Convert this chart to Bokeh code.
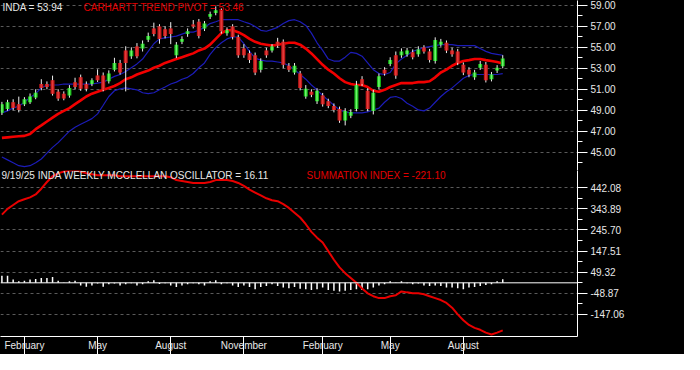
import pandas as pd
from bokeh.plotting import figure
from bokeh.layouts import column
from bokeh.models import (ColumnDataSource, Range1d, FixedTicker, NumeralTickFormatter,
                          DatetimeTickFormatter, Span, Label)
from bokeh.embed import file_html
from bokeh.resources import INLINE

# ---------------- data (weekly bars, INDA) ----------------
first_week = "2024-01-05"

opens = [48.76, 49.12, 49.76, 49.58, 49.58, 49.76, 50.22, 51.50, 51.50, 51.86,
         50.77, 50.58, 50.40, 51.68, 52.14, 51.50, 51.50, 52.32, 52.32, 51.77,
         52.87, 53.51, 54.70, 54.15, 55.07, 54.88, 55.71, 56.80, 56.99, 56.71,
         56.80, 54.24, 55.52, 56.26, 57.17, 57.44, 56.80, 57.90, 58.27, 58.54,
         56.35, 56.99, 55.98, 54.88, 54.43, 54.24, 52.87, 54.70, 54.70, 55.52,
         55.52, 53.24, 52.60, 52.50, 50.31, 50.77, 49.85, 50.40, 49.85, 49.40,
         49.12, 48.02, 48.48, 49.12, 51.96, 50.86, 48.94, 51.22, 52.87, 53.42,
         54.24, 54.24, 54.33, 54.52, 54.33, 54.97, 54.60, 53.69, 55.25, 55.43,
         54.70, 54.60, 53.33, 52.87, 52.14, 53.05, 53.33, 51.96, 52.78, 53.20]
closes = [49.58, 49.76, 49.21, 49.03, 50.04, 50.31, 50.67, 51.13, 51.22, 50.58,
          50.13, 50.13, 51.13, 51.22, 51.04, 51.04, 51.86, 51.86, 50.95, 52.50,
          53.51, 52.60, 53.51, 54.70, 54.15, 55.34, 56.07, 56.26, 55.80, 56.07,
          56.26, 55.25, 55.80, 56.53, 56.99, 56.07, 57.26, 58.18, 58.54, 56.53,
          56.62, 55.98, 54.24, 54.24, 53.78, 52.60, 53.69, 54.24, 55.07, 55.16,
          53.33, 52.87, 53.24, 51.13, 51.04, 50.49, 50.86, 49.58, 49.40, 49.03,
          48.02, 48.94, 48.84, 51.40, 51.50, 49.12, 50.67, 52.23, 52.50, 53.79,
          52.32, 54.61, 54.70, 54.06, 54.79, 54.60, 53.78, 55.70, 55.52, 54.70,
          54.33, 53.51, 52.60, 52.41, 52.60, 53.42, 51.86, 52.41, 53.05, 53.94]
highs = [49.80, 50.00, 50.05, 50.30, 50.25, 50.60, 51.00, 51.96, 51.75, 52.30,
         51.00, 50.80, 51.40, 52.10, 52.40, 51.75, 52.05, 52.90, 52.60, 52.80,
         54.00, 53.80, 55.10, 55.00, 55.40, 55.65, 56.40, 57.35, 57.20, 57.00,
         57.40, 55.50, 56.05, 56.80, 57.60, 57.70, 57.50, 58.40, 58.90, 58.70,
         56.90, 57.20, 56.20, 55.30, 54.70, 54.50, 53.95, 54.95, 55.30, 55.90,
         55.75, 53.50, 53.50, 52.75, 51.40, 51.00, 51.10, 50.65, 50.10, 49.65,
         49.35, 49.20, 49.10, 51.80, 52.25, 51.10, 50.95, 52.50, 53.10, 54.05,
         54.60, 54.90, 54.95, 54.80, 55.10, 55.20, 54.85, 55.95, 55.80, 55.65,
         54.95, 54.85, 53.55, 53.10, 52.85, 53.70, 53.60, 52.65, 53.30, 54.25]
lows = [48.55, 48.95, 49.00, 48.80, 49.40, 49.60, 50.05, 50.90, 51.00, 50.40,
        49.90, 49.95, 50.20, 51.00, 50.85, 50.80, 51.30, 51.70, 50.80, 51.55,
        52.70, 52.40, 50.80, 53.90, 53.95, 54.60, 55.50, 56.05, 55.34, 55.85,
        55.30, 53.97, 55.30, 56.00, 56.80, 55.85, 56.55, 57.70, 58.05, 56.30,
        56.10, 55.75, 54.00, 54.00, 53.50, 52.35, 52.60, 54.00, 54.50, 54.95,
        53.00, 52.65, 52.40, 50.90, 50.10, 50.25, 49.60, 49.35, 49.20, 48.80,
        47.80, 47.56, 48.25, 48.90, 51.30, 48.90, 48.60, 51.00, 52.30, 53.20,
        52.00, 54.00, 54.10, 53.85, 54.10, 54.40, 53.55, 53.45, 55.05, 54.45,
        54.10, 53.30, 52.35, 52.15, 51.90, 52.85, 51.65, 51.75, 52.55, 53.00]

trend_pivot = [46.37, 46.42, 46.47, 46.52, 46.56, 46.74, 47.20, 47.56, 47.93, 48.30,
               48.66, 48.94, 49.21, 49.58, 49.94, 50.31, 50.58, 50.77, 50.95, 51.13,
               51.31, 51.59, 51.96, 52.14, 52.41, 52.60, 52.78, 53.05, 53.24, 53.51,
               53.69, 53.88, 54.06, 54.24, 54.42, 54.70, 54.88, 55.25, 55.80, 56.35,
               56.62, 56.62, 56.44, 56.16, 55.80, 55.52, 55.34, 55.25, 55.16, 55.25,
               55.34, 55.43, 55.43, 55.25, 54.88, 54.42, 53.88, 53.33, 52.87, 52.50,
               52.05, 51.68, 51.50, 51.41, 51.41, 51.22, 50.86, 50.77, 50.95, 51.22,
               51.41, 51.59, 51.59, 51.59, 51.68, 51.68, 51.77, 52.14, 52.60, 52.87,
               53.24, 53.51, 53.69, 53.78, 53.88, 53.88, 53.78, 53.69, 53.60, 53.46]
upper_band = [48.75, 48.94, 49.21, 49.39, 49.76, 50.22, 50.58, 51.13, 51.41, 51.41,
              51.41, 51.50, 51.50, 51.50, 51.50, 51.50, 51.50, 51.59, 51.68, 51.96,
              52.23, 52.41, 52.69, 53.05, 53.42, 53.88, 54.61, 55.34, 55.80, 55.89,
              55.98, 56.07, 56.26, 56.44, 56.44, 56.62, 56.90, 57.26, 57.44, 57.63,
              57.63, 57.63, 57.63, 57.44, 57.26, 56.99, 56.62, 56.53, 56.71, 56.90,
              57.26, 57.54, 57.63, 57.44, 57.08, 56.35, 55.43, 54.70, 53.88, 53.69,
              53.69, 54.06, 54.52, 54.42, 54.15, 53.51, 52.87, 52.50, 52.41, 52.60,
              53.42, 53.88, 54.24, 54.61, 54.79, 54.97, 55.07, 55.16, 55.25, 55.25,
              55.25, 55.16, 55.16, 55.16, 55.16, 54.88, 54.61, 54.42, 54.33, 54.24]
lower_band = [44.54, 44.27, 44.00, 43.72, 43.63, 43.72, 44.00, 44.36, 44.91, 45.46,
              45.92, 46.47, 47.01, 47.38, 47.66, 47.93, 48.20, 48.66, 49.48, 50.31,
              50.86, 51.04, 51.13, 51.04, 50.95, 50.67, 50.58, 50.67, 50.95, 51.22,
              51.50, 51.68, 51.96, 52.14, 52.50, 53.05, 53.51, 54.33, 54.97, 55.43,
              55.80, 55.98, 55.98, 55.34, 54.61, 53.97, 53.78, 53.69, 53.69, 53.60,
              53.51, 53.24, 52.87, 52.41, 51.96, 51.41, 50.95, 50.40, 49.94, 49.48,
              49.03, 48.84, 48.75, 48.75, 48.75, 48.84, 49.03, 49.21, 49.76, 50.22,
              50.31, 50.12, 49.67, 49.39, 49.03, 48.94, 49.21, 49.76, 50.31, 50.77,
              51.13, 51.59, 52.05, 52.32, 52.41, 52.41, 52.41, 52.41, 52.41, 52.50]

summation = [317.2, 344.0, 361.8, 379.6, 388.6, 397.5, 410.9, 437.6, 468.9, 495.7,
             509.1, 518.0, 522.5, 522.5, 518.0, 509.1, 504.6, 500.1, 500.1, 500.1,
             500.1, 495.7, 495.7, 495.7, 495.7, 495.7, 495.7, 495.7, 495.7, 495.7,
             491.2, 477.8, 473.4, 468.9, 464.4, 464.4, 464.4, 468.9, 477.8, 477.8,
             477.8, 473.4, 464.4, 451.0, 433.2, 419.8, 406.4, 393.0, 384.1, 379.6,
             366.2, 348.4, 326.1, 303.8, 272.5, 236.8, 210.0, 187.7, 147.6, 107.4,
             71.7, 44.9, 22.6, 0.3, -26.5, -48.8, -62.2, -71.1, -71.1, -62.2,
             -57.7, -39.9, -44.4, -48.8, -48.8, -53.3, -62.2, -71.1, -80.1, -93.5,
             -115.8, -147.0, -173.8, -196.1, -209.5, -218.4, -231.8, -240.7, -231.8, -221.1]
oscillator = [33, 33, 15, 7, 10, 15, 18, 22, 22, 27,
              10, 1, 7, 10, -12, -18, -12, -3, -18, -7,
              -3, -12, -7, -2, -12, -7, 7, 12, -5, -2,
              -12, -19, -12, -7, -2, -7, -12, 7, 12, -7,
              -2, -12, -19, -12, -19, -30, -19, -15, -7, -15,
              -22, -25, -19, -28, -30, -34, -30, -22, -34, -37,
              -40, -37, -34, -30, -34, -30, -22, -12, -7, 7,
              2, 7, -2, -7, -3, -12, -15, -12, -15, -22,
              -22, -25, -30, -22, -19, -15, -10, -7, 7, 16.11]

month_tick_dates = ["2024-02-02", "2024-05-03", "2024-08-02", "2024-11-01",
                    "2025-02-07", "2025-05-02", "2025-08-01"]
price_ticks = [45, 47, 49, 51, 53, 55, 57, 59]
price_minor = [44, 46, 48, 50, 52, 54, 56, 58]
osc_ticks = [442.08, 343.89, 245.70, 147.51, 49.32, -48.87, -147.06]
osc_minor = [392.985, 294.795, 196.605, 98.415, 0.225, -97.965]

# ---------------- build ----------------
dates = pd.date_range(first_week, periods=len(closes), freq="7D")
up = [c >= o for o, c in zip(opens, closes)]
src = ColumnDataSource(dict(
    x=dates, open=opens, close=closes, high=highs, low=lows,
    top=[max(o, c) for o, c in zip(opens, closes)],
    bottom=[min(o, c) for o, c in zip(opens, closes)],
    outer=["#16b816" if u else "#c01818" for u in up],
    inner=["#6cf56c" if u else "#e43a3a" for u in up],
    pivot=trend_pivot, upper=upper_band, lower=lower_band,
    summ=summation, osc=oscillator, zero=[0] * len(closes),
))

DAY = 86400000
xr = Range1d(start=pd.Timestamp("2024-01-03 06:00"), end=pd.Timestamp("2025-12-21"))
FONT = "Liberation Sans"


def style_right_axis(p, ticks, minor):
    ax = p.yaxis[0]
    ax.ticker = FixedTicker(ticks=ticks, minor_ticks=minor)
    ax.formatter = NumeralTickFormatter(format="0.00")
    ax.axis_line_color = "white"
    ax.major_tick_line_color = "white"
    ax.minor_tick_line_color = "white"
    ax.major_tick_in = 0
    ax.major_tick_out = 10
    ax.minor_tick_in = 0
    ax.minor_tick_out = 5
    ax.major_label_standoff = 3
    ax.major_label_text_color = "#e8e8e8"
    ax.major_label_text_font = FONT
    ax.major_label_text_font_size = "10px"
    p.ygrid.ticker = FixedTicker(ticks=ticks)
    p.ygrid.grid_line_color = "#5a5a5a"
    p.ygrid.grid_line_dash = "3 3"
    p.xgrid.visible = False


common = dict(frame_width=577, x_axis_type="datetime", x_range=xr, y_axis_location="right",
              output_backend="svg", toolbar_location=None,
              background_fill_color="black", border_fill_color="black",
              outline_line_color=None, min_border_left=0, min_border_right=107,
              min_border_top=0)

# top panel: price candles
top = figure(frame_height=170, x_axis_location=None, y_range=Range1d(43.26, 59.46),
             min_border_bottom=0, **common)
style_right_axis(top, price_ticks, price_minor)
top.line("x", "upper", source=src, line_color="#1c1cb8", line_width=1.2)
top.line("x", "lower", source=src, line_color="#1c1cb8", line_width=1.2)
top.line("x", "pivot", source=src, line_color="#f20000", line_width=2.6)
top.segment("x", "low", "x", "high", source=src, line_color="#f0f0f0", line_width=1)
top.vbar("x", 5 * DAY, "top", "bottom", source=src, fill_color="outer", line_color=None)
top.vbar("x", 2 * DAY, "top", "bottom", source=src, fill_color="inner", line_color=None)

top.add_layout(Label(x=2, y=163, x_units="screen", y_units="screen", text="INDA = 53.94",
                     text_color="#e8e8e8", text_font=FONT, text_font_size="10px",
                     text_baseline="middle"))
top.add_layout(Label(x=83, y=163, x_units="screen", y_units="screen",
                     text="CARHARTT TREND PIVOT = 53.46",
                     text_color="#e00000", text_font=FONT, text_font_size="10px",
                     text_baseline="middle"))

# bottom panel: McClellan oscillator + summation index
bot = figure(frame_height=166, y_range=Range1d(-249.7, 522.4), min_border_bottom=18, **common)
style_right_axis(bot, osc_ticks, osc_minor)
bot.segment("x", "zero", "x", "osc", source=src, line_color="white", line_width=1.5)
bot.add_layout(Span(location=0, dimension="width", line_color="white", line_width=1))
bot.line("x", "summ", source=src, line_color="#e80000", line_width=2)

xa = bot.xaxis[0]
xa.ticker = FixedTicker(ticks=[pd.Timestamp(d).value // 10**6 for d in month_tick_dates],
                        minor_ticks=[])
xa.formatter = DatetimeTickFormatter(days="%B", months="%B", years="%B")
xa.axis_line_color = "white"
xa.major_tick_line_color = "white"
xa.major_tick_in = 0
xa.major_tick_out = 18
xa.minor_tick_out = 0
xa.major_label_standoff = -15
xa.major_label_text_align = "left"
xa.major_label_text_color = "#e8e8e8"
xa.major_label_text_font = FONT
xa.major_label_text_font_size = "10px"

bot.add_layout(Label(x=1, y=161, x_units="screen", y_units="screen",
                     text="9/19/25  INDA WEEKLY MCCLELLAN OSCILLATOR = 16.11",
                     text_color="#e8e8e8", text_font=FONT, text_font_size="10px",
                     text_baseline="middle"))
bot.add_layout(Label(x=306, y=161, x_units="screen", y_units="screen",
                     text="SUMMATION INDEX = -221.10",
                     text_color="#e00000", text_font=FONT, text_font_size="10px",
                     text_baseline="middle"))

layout = column(top, bot, spacing=0, styles={"background-color": "black"})
open("out.html", "w").write(file_html(layout, INLINE))
